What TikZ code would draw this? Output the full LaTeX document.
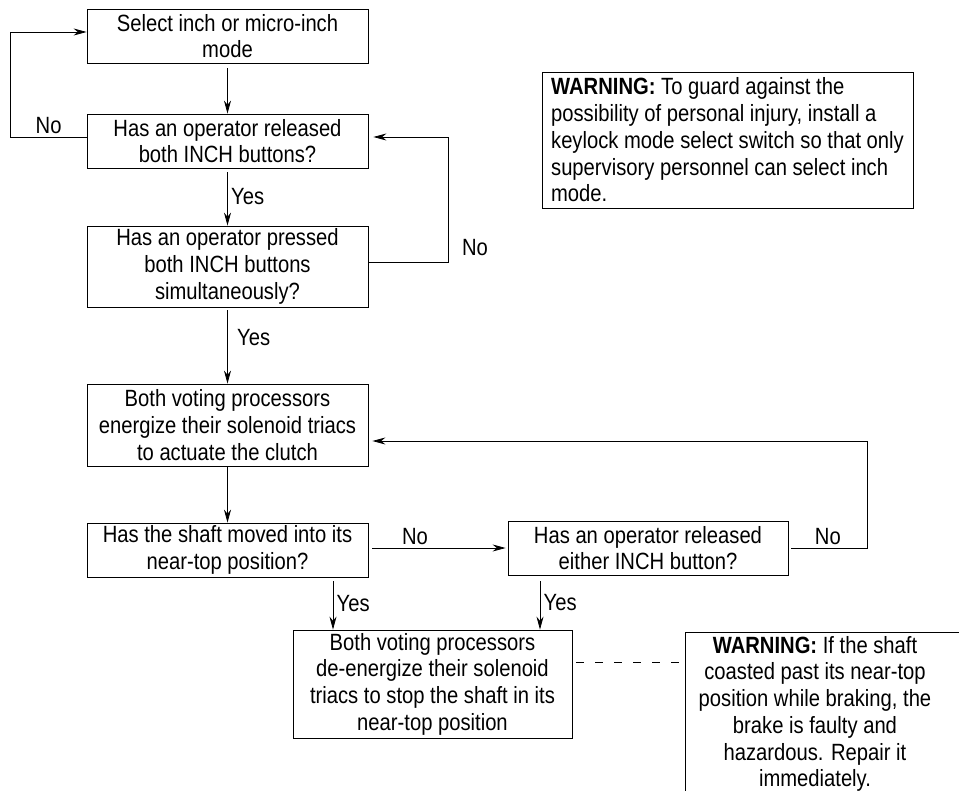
\documentclass[tikz,border=0pt]{standalone}
\usepackage{fontspec}
\setmainfont{Liberation Sans}[FakeStretch=0.86]
\usetikzlibrary{arrows.meta}

\tikzset{
  flowbox/.style={draw,line width=0.8pt,minimum width=281pt,align=center,inner sep=2pt},
  flowarrow/.style={-{Stealth[length=13pt,width=7pt]},line width=0.8pt},
  flowline/.style={line width=0.8pt}
}

\begin{document}
\begin{tikzpicture}[x=1pt,y=-1pt,font=\fontsize{23.5}{26.7}\selectfont]
    \useasboundingbox (0,0) rectangle (959,791);

    % left column
    \node[flowbox,minimum height=54pt] (select) at (227.5,36) {Select inch or micro-inch\\mode};
    \node[flowbox,minimum height=54pt] (released) at (227.5,141) {Has an operator released\\both INCH buttons?};
    \node[flowbox,minimum height=81pt] (pressed) at (227.5,266.5) {Has an operator pressed\\both INCH buttons\\simultaneously?};
    \node[flowbox,minimum height=82pt] (energize) at (227.5,425) {Both voting processors\\energize their solenoid triacs\\to actuate the clutch};
    \node[flowbox,minimum height=54pt] (moved) at (227.5,550) {Has the shaft moved into its\\near-top position?};
    \node[flowbox,minimum width=280pt,minimum height=54pt] (either) at (648,548) {Has an operator released\\either INCH button?};
    \node[flowbox,minimum width=279pt,minimum height=108pt] (stop) at (432.5,684) {Both voting processors\\de-energize their solenoid\\triacs to stop the shaft in its\\near-top position};

    % warnings
    \node[draw,line width=0.8pt,minimum width=371pt,minimum height=136pt,align=left] (keylock) at (727.5,140)
        {\textbf{WARNING:} To guard against the\\possibility of personal injury, install a\\keylock mode select switch so that only\\supervisory personnel can select inch\\mode.};
    \coordinate (brake) at (685,632);
    \node[anchor=north,inner sep=0pt,align=center] (braketext) at (815,636)
        {\textbf{WARNING:} If the shaft\\coasted past its near-top\\position while braking, the\\brake is faulty and\\hazardous. Repair it\\immediately.};
    \draw[flowline] (959,632) -- (brake) -- (685,791);

    % connectors
    \draw[flowarrow,shorten <=5pt] (select.south) -- (released.north);
    \draw[flowarrow] ([yshift=4pt]released.west) -- ++(-76,0) node[midway,above] {No} |- ([yshift=4pt]select.west);
    \draw[flowarrow,shorten <=4pt] (released.south) -- node[midway,right] {Yes} (pressed.north);
    \draw[flowarrow] ([yshift=4pt]pressed.east) -- ++(80,0) |- node[pos=0.06,right,xshift=10pt] {No} ([xshift=5pt,yshift=4pt]released.east);
    \draw[flowarrow,shorten <=3pt] (pressed.south) -- node[pos=0.4,right,xshift=6pt] {Yes} (energize.north);
    \draw[flowarrow] (energize.south) -- (moved.north);
    \draw[flowarrow,shorten <=4pt] (moved.east |- either.west) -- node[midway,above,xshift=-22pt] {No} ([xshift=-2pt]either.west);
    \draw[flowarrow,shorten <=3pt] (either.east) -- ++(79,0) node[midway,above] {No} |- ([xshift=4pt,yshift=-16pt]energize.east);
    \draw[flowarrow,shorten <=4pt] ([xshift=105.5pt]moved.south) -- node[midway,right] {Yes} ([xshift=105.5pt]moved.south |- stop.north);
    \draw[flowarrow,shorten <=6pt] ([xshift=-108pt]either.south) -- node[midway,right] {Yes} ([xshift=-108pt]either.south |- stop.north);
    \coordinate (stopside) at ([yshift=22pt]stop.east);
    \draw[flowline,dash pattern=on 8pt off 11pt,shorten <=4pt] (stopside) -- (stopside -| brake);
\end{tikzpicture}
\end{document}
